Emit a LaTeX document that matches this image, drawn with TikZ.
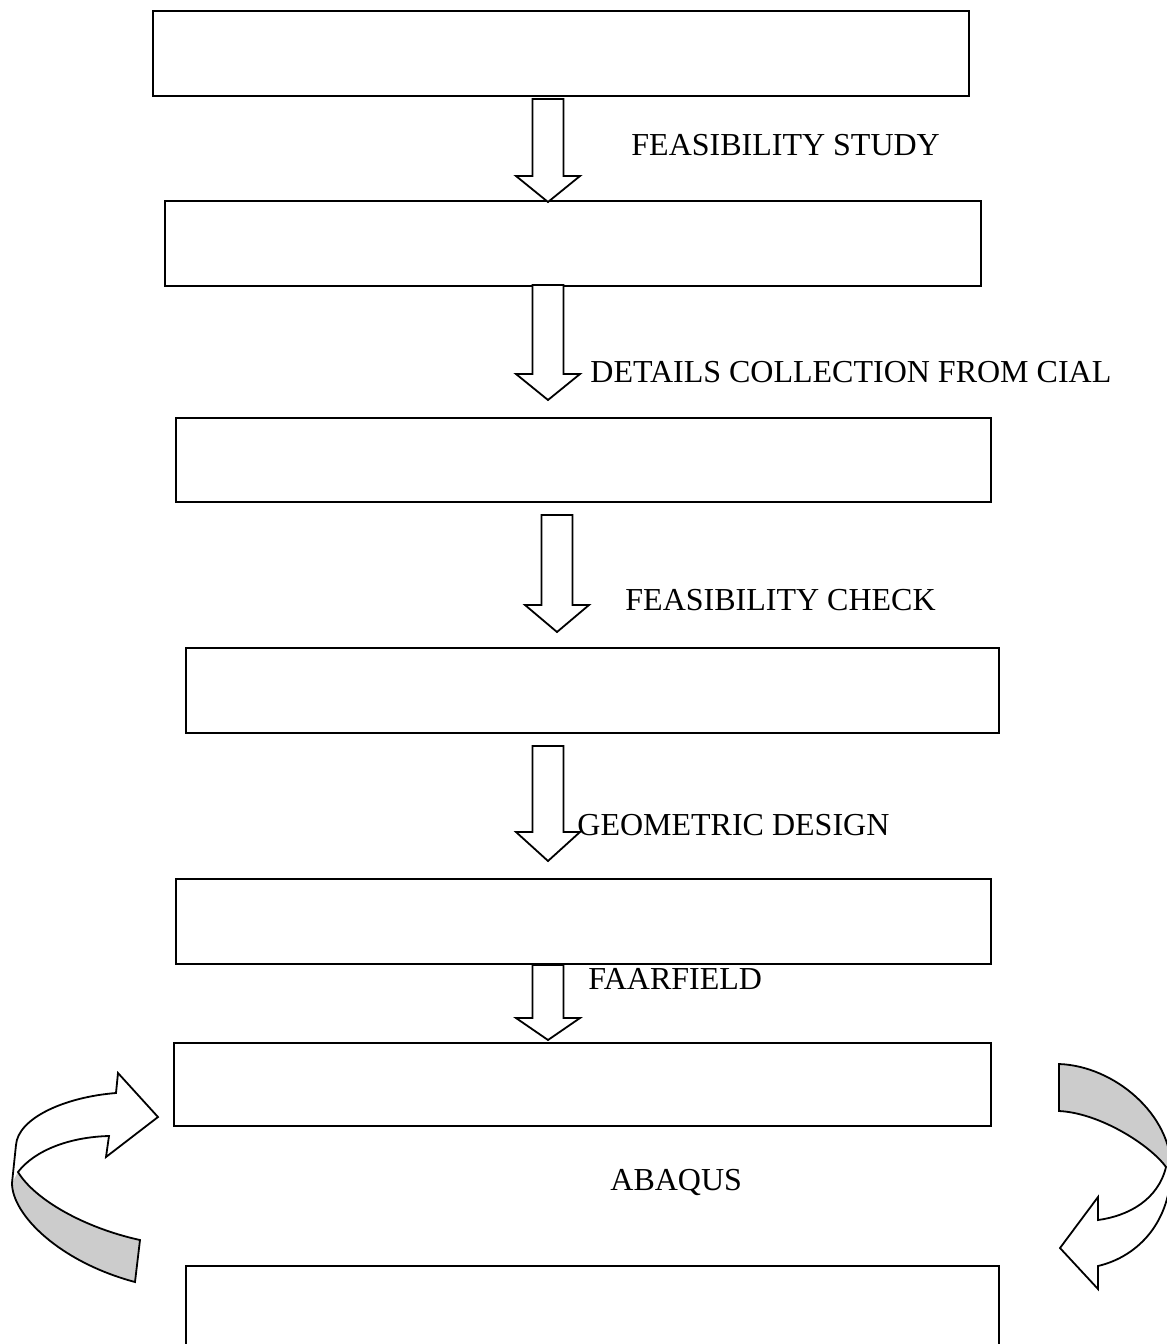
\documentclass[tikz,border=0pt]{standalone}
\usepackage{fontspec}
\setmainfont{Liberation Serif}
\usetikzlibrary{calc}
\newcommand{\blockarrow}[3]{%
  \draw[barrow] let \p1=(#1), \p2=(#2) in
    (\x1-7.75pt,\y1) -- (\x1+7.75pt,\y1) -- (\x1+7.75pt,\y2+#3*0.5pt)
    -- (\x1+16pt,\y2+#3*0.5pt) -- (\x2,\y2) -- (\x1-16pt,\y2+#3*0.5pt)
    -- (\x1-7.75pt,\y2+#3*0.5pt) -- cycle;}
\begin{document}
\begin{tikzpicture}[x=0.5pt,y=-0.5pt,
  box/.style={draw, line width=1.1pt, inner sep=0pt, anchor=north west},
  barrow/.style={draw, line width=0.9pt, fill=white, line join=miter},
  lbl/.style={anchor=base west, inner sep=0pt, font=\fontsize{16}{19}\selectfont},
  curvarrow/.style={draw, line width=0.9pt, line join=miter}]
\path[use as bounding box] (0,0) rectangle (1167,1344);
\clip (0,0) rectangle (1167,1344);
% boxes
\node[box, minimum width=408pt, minimum height=42.5pt] (b1) at (152,10) {};
\node[box, minimum width=408pt, minimum height=42.5pt] (b2) at (164,200) {};
\node[box, minimum width=407.5pt, minimum height=42pt] (b3) at (175,417) {};
\node[box, minimum width=406.5pt, minimum height=42.5pt] (b4) at (185,647) {};
\node[box, minimum width=407.5pt, minimum height=42.5pt] (b5) at (175,878) {};
\node[box, minimum width=408.5pt, minimum height=41.5pt] (b6) at (173,1042) {};
\node[box, minimum width=406.5pt, minimum height=60pt] (b7) at (185,1265) {};
% arrow end points
\coordinate (a1s) at (548,99);  \coordinate (a1e) at (548,202);
\coordinate (a2s) at (548,285); \coordinate (a2e) at (548,400);
\coordinate (a3s) at (557,515); \coordinate (a3e) at (557,632);
\coordinate (a4s) at (548,746); \coordinate (a4e) at (548,861);
\coordinate (a5s) at (548,965); \coordinate (a5e) at (548,1040);
\blockarrow{a1s}{a1e}{26}
\blockarrow{a2s}{a2e}{26}
\blockarrow{a3s}{a3e}{27}
\blockarrow{a4s}{a4e}{29}
\blockarrow{a5s}{a5e}{22}
% labels
\node[lbl] (t1) at (631,155) {FEASIBILITY STUDY};
\node[lbl] (t2) at (590,382) {DETAILS COLLECTION FROM CIAL};
\node[lbl] (t3) at (625,610) {FEASIBILITY CHECK};
\node[lbl] (t4) at (577,835) {GEOMETRIC DESIGN};
\node[lbl] (t5) at (588,989) {FAARFIELD};
\node[lbl] (t6) at (610,1190) {ABAQUS};
% left curved arrow
\fill[black!20] (18,1172) -- (12,1183) .. controls (12,1215) and (60,1262) .. (135,1282)
  -- (140,1240) .. controls (85,1228) and (35,1200) .. (18,1172) -- cycle;
\draw[curvarrow] (158,1117) -- (118,1073) -- (116,1093)
  .. controls (65,1097) and (18,1118) .. (16,1145) -- (12,1183)
  .. controls (12,1215) and (60,1262) .. (135,1282) -- (140,1240)
  .. controls (85,1228) and (35,1200) .. (18,1172)
  .. controls (35,1150) and (70,1137) .. (109,1136) -- (106,1157) -- cycle;
% right curved arrow
\fill[black!20] (1059,1064) .. controls (1115,1066) and (1171,1115) .. (1171,1168)
  -- (1166,1167) .. controls (1150,1145) and (1100,1113) .. (1059,1111) -- cycle;
\draw[curvarrow] (1059,1064) .. controls (1115,1066) and (1171,1115) .. (1171,1168)
  .. controls (1171,1220) and (1140,1256) .. (1098,1266) -- (1098,1289) -- (1060,1248)
  -- (1098,1197) -- (1098,1220) .. controls (1128,1216) and (1158,1200) .. (1166,1167)
  .. controls (1150,1145) and (1100,1113) .. (1059,1111) -- cycle;
\end{tikzpicture}
\end{document}
